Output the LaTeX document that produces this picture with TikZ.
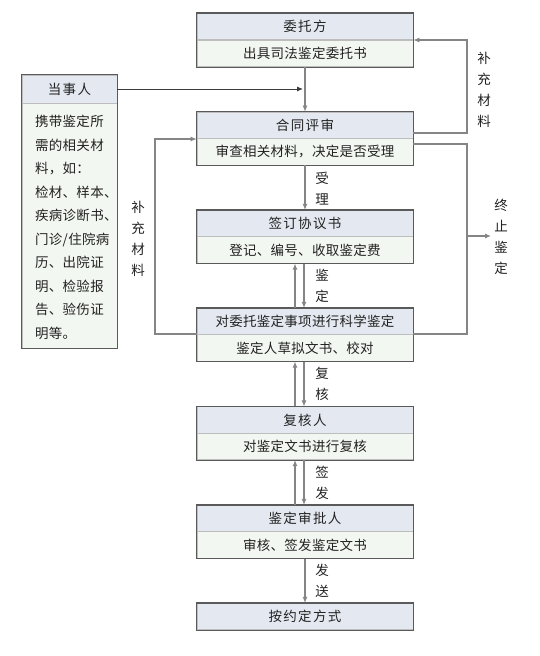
\documentclass[tikz,border=0pt]{standalone}
\usepackage{fontspec}
\setmainfont{Noto Sans CJK SC}
\newfontfamily\cjkb[LetterSpace=2]{Noto Sans CJK SC}
\newfontfamily\cjkh[LetterSpace=10]{Noto Sans CJK SC}
\usetikzlibrary{arrows.meta,calc}
\definecolor{hdrfill}{HTML}{E4E9F1}
\definecolor{bodyfill}{HTML}{F3F7F1}
\definecolor{divline}{HTML}{BDBDBD}
\definecolor{boxline}{HTML}{5A5A5A}
\definecolor{conn}{HTML}{858585}
\definecolor{darkconn}{HTML}{3A3A3A}
\definecolor{txt}{HTML}{222222}
\tikzset{
  hdr/.style={rectangle, fill=hdrfill, draw=divline, line width=0.6pt, inner sep=0pt,
    minimum width=216pt, minimum height=26.5pt, text=txt,
    font=\cjkh\fontsize{13.5}{15}\selectfont},
  bodybox/.style={rectangle, fill=bodyfill, draw=divline, line width=0.6pt, inner sep=0pt,
    minimum width=216pt, minimum height=26.5pt, text=txt,
    font=\cjkb\fontsize{13.5}{15}\selectfont},
  outline/.style={draw=boxline, line width=1.1pt},
  lbl/.style={align=center, inner sep=0pt, text=txt,
    font=\cjkb\fontsize{13.5}{21}\selectfont},
  conline/.style={draw=conn, line width=1.1pt},
  arr/.style={conline, -{Latex[length=6pt,width=5pt]}},
}
\begin{document}
\begin{tikzpicture}[x=1pt,y=-1pt]
\useasboundingbox (0,0) rectangle (539,656);
\fill[white] (0,0) rectangle (539,656);

% main boxes
\node[hdr] (b1h) at (305,26.5) {委托方};
\node[bodybox] (b1b) at (305,53.5) {出具司法鉴定委托书};
\node[hdr] (b2h) at (305,125.25) {合同评审};
\node[bodybox] (b2b) at (305,151.75) {审查相关材料，决定是否受理};
\node[hdr] (b3h) at (305,223.5) {签订协议书};
\node[bodybox] (b3b) at (305,250) {登记、编号、收取鉴定费};
\node[hdr, font=\cjkb\fontsize{13.5}{15}\selectfont] (b4h) at (305,321.5) {对委托鉴定事项进行科学鉴定};
\node[bodybox] (b4b) at (305,348) {鉴定人草拟文书、校对};
\node[hdr] (b5h) at (305,420) {复核人};
\node[bodybox] (b5b) at (305,446.5) {对鉴定文书进行复核};
\node[hdr] (b6h) at (305,518.5) {鉴定审批人};
\node[bodybox] (b6b) at (305,545) {审核、签发鉴定文书};
\node[hdr] (b7h) at (305,616.5) {按约定方式};

\foreach \a/\b in {b1h/b1b,b2h/b2b,b3h/b3b,b4h/b4b,b5h/b5b,b6h/b6b,b7h/b7h}
  \draw[outline] (\a.north west) rectangle (\b.south east);

% left box
\node[hdr, minimum width=95pt, minimum height=28pt] (lh) at (69.5,89) {当事人};
\node[bodybox, minimum width=95pt, minimum height=245pt] (lb) at (69.5,225.5) {};
\draw[outline] (lh.north west) rectangle (lb.south east);
\node[anchor=west, align=left, inner sep=0pt, text=txt,
  font=\cjkb\fontsize{13.5}{23.5}\selectfont] (ltext) at (35,227.5)
  {携带鉴定所\\需的相关材\\料，如：\\检材、样本、\\疾病诊断书、\\门诊/住院病\\历、出院证\\明、检验报\\告、验伤证\\明等。};

% coordinates
\coordinate (j1) at (303,89);
\coordinate (lf1) at (155,334);
\coordinate (lf2) at (155,139);
\coordinate (rf1) at (467,133);
\coordinate (rf2) at (467,40);
\coordinate (rt1) at (467,144);
\coordinate (rt2) at (467,334);
\coordinate (rt3) at (467,236);
\coordinate (rt4) at (491,236);

% main vertical arrows
\draw[arr] (b1b.south) -- (b2h.north);
\draw[arr, draw=darkconn, line width=0.9pt] (lh.east) -- (j1);
\draw[arr] (b2b.south) -- (b3h.north);
\draw[arr] ([xshift=-1pt]b3b.south) -- ([xshift=-1pt]b4h.north);
\draw[arr] ([xshift=-10pt]b4h.north) -- ([xshift=-10pt]b3b.south);
\draw[arr] ([xshift=-1pt]b4b.south) -- ([xshift=-1pt]b5h.north);
\draw[arr] ([xshift=-10pt]b5h.north) -- ([xshift=-10pt]b4b.south);
\draw[arr] ([xshift=-1pt]b5b.south) -- ([xshift=-1pt]b6h.north);
\draw[arr] ([xshift=-10pt]b6h.north) -- ([xshift=-10pt]b5b.south);
\draw[arr] (b6b.south) -- (b7h.north);

% feedback loops
\draw[arr] (b4h.south west |- lf1) -- (lf1) -- (lf2) -- (b2h.south west |- lf2);
\draw[arr] (b2h.south east |- rf1) -- (rf1) -- (rf2) -- (b1h.south east |- rf2);
\draw[conline] (b2b.north east |- rt1) -- (rt1) -- (rt2) -- (b4h.south east |- rt2);
\draw[arr] (rt3) -- (rt4);

% labels
\node[lbl] (l1) at (322,188.5) {受\\理};
\node[lbl] (l2) at (322,286) {鉴\\定};
\node[lbl] (l3) at (322,384) {复\\核};
\node[lbl] (l4) at (322,482.5) {签\\发};
\node[lbl] (l5) at (322,581) {发\\送};
\node[lbl] (l6) at (484,90) {补\\充\\材\\料};
\node[lbl] (l7) at (138,238.5) {补\\充\\材\\料};
\node[lbl] (l8) at (501,237) {终\\止\\鉴\\定};
\end{tikzpicture}
\end{document}
